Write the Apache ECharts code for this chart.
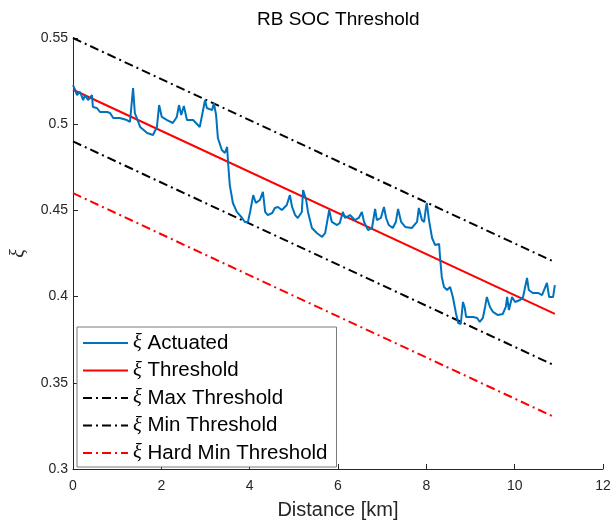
<!DOCTYPE html>
<html>
<head>
<meta charset="utf-8">
<script src="https://cdn.jsdelivr.net/npm/echarts@6/dist/echarts.min.js"></script>
<style>
  html, body { margin: 0; padding: 0; background: #fff; }
  #chart { width: 613px; height: 526px; }
</style>
</head>
<body>
<div id="chart"></div>
<script>
// Distance along the route [km] and measured state of charge
const distance = [
  0.00, 0.05, 0.09, 0.16, 0.23, 0.27, 0.34, 0.43, 0.45, 0.54, 0.61, 0.77, 0.84, 0.91, 1.06, 1.22, 1.29, 1.36, 1.40, 1.52,
  1.68, 1.81, 1.90, 1.95, 2.01, 2.13, 2.26, 2.35, 2.40, 2.45, 2.51, 2.58, 2.72, 2.87, 2.99, 3.03, 3.15, 3.19, 3.24, 3.28,
  3.37, 3.44, 3.49, 3.51, 3.55, 3.62, 3.71, 3.83, 3.89, 3.96, 4.01, 4.08, 4.14, 4.23, 4.30, 4.35, 4.41, 4.51, 4.57, 4.64,
  4.73, 4.84, 4.91, 4.96, 5.03, 5.09, 5.18, 5.21, 5.28, 5.32, 5.41, 5.52, 5.64, 5.71, 5.80, 5.86, 5.98, 6.04, 6.11, 6.16,
  6.27, 6.38, 6.47, 6.54, 6.59, 6.68, 6.77, 6.84, 6.88, 6.97, 7.04, 7.09, 7.15, 7.24, 7.31, 7.36, 7.43, 7.52, 7.67, 7.79,
  7.83, 7.90, 7.95, 7.99, 8.01, 8.06, 8.13, 8.20, 8.24, 8.29, 8.31, 8.35, 8.40, 8.47, 8.54, 8.58, 8.60, 8.67, 8.72, 8.78,
  8.83, 8.87, 8.90, 8.94, 9.06, 9.15, 9.21, 9.28, 9.33, 9.37, 9.44, 9.51, 9.62, 9.73, 9.80, 9.83, 9.87, 9.94, 10.01, 10.12,
  10.19, 10.28, 10.32, 10.41, 10.53, 10.62, 10.73, 10.78, 10.87, 10.91
];
const socActuated = [
  0.5227, 0.5198, 0.5169, 0.5187, 0.5140, 0.5169, 0.5140, 0.5169, 0.5100, 0.5094, 0.5071, 0.5071, 0.5065, 0.5036, 0.5036, 0.5024, 0.5013, 0.5210, 0.5065, 0.4984,
  0.4949, 0.4937, 0.4984, 0.5111, 0.5042, 0.5024, 0.5007, 0.5042, 0.5111, 0.5053, 0.5106, 0.5024, 0.5024, 0.4984, 0.5140, 0.5094, 0.5082, 0.5123, 0.5053, 0.4920,
  0.4850, 0.4833, 0.4868, 0.4781, 0.4647, 0.4543, 0.4491, 0.4456, 0.4433, 0.4433, 0.4491, 0.4589, 0.4543, 0.4560, 0.4607, 0.4491, 0.4473, 0.4485, 0.4514, 0.4520,
  0.4502, 0.4531, 0.4589, 0.4520, 0.4473, 0.4456, 0.4491, 0.4618, 0.4560, 0.4491, 0.4398, 0.4369, 0.4346, 0.4369, 0.4502, 0.4433, 0.4415, 0.4427, 0.4491, 0.4456,
  0.4473, 0.4444, 0.4456, 0.4491, 0.4433, 0.4386, 0.4398, 0.4508, 0.4444, 0.4456, 0.4520, 0.4456, 0.4415, 0.4398, 0.4433, 0.4508, 0.4433, 0.4404, 0.4398, 0.4433,
  0.4514, 0.4444, 0.4433, 0.4514, 0.4543, 0.4444, 0.4340, 0.4299, 0.4288, 0.4305, 0.4230, 0.4114, 0.4056, 0.4038, 0.4056, 0.4067, 0.3998, 0.3905, 0.3847, 0.3841,
  0.3969, 0.3934, 0.3882, 0.3893, 0.3882, 0.3876, 0.3853, 0.3876, 0.3940, 0.3998, 0.3940, 0.3911, 0.3893, 0.3899, 0.3940, 0.3998, 0.3922, 0.3998, 0.3969, 0.3980,
  0.3998, 0.4108, 0.4038, 0.4021, 0.4021, 0.4009, 0.4079, 0.3998, 0.3998, 0.4067
];

// Straight threshold bands: values at the start and end of the route
const bandDistance = [0, 10.91];
const threshold = [0.52, 0.39];
const maxThreshold = [0.55, 0.42];
const minThreshold = [0.49, 0.36];
const hardMinThreshold = [0.46, 0.33];

// Axis ticks
const xTicks = [0, 2, 4, 6, 8, 10, 12];
const yTicks = [0.3, 0.35, 0.4, 0.45, 0.5, 0.55];

const seriesNames = ['Actuated', 'Threshold', 'Max Threshold', 'Min Threshold', 'Hard Min Threshold'];

const pairs = (xs, ys) => xs.map((x, i) => [x, ys[i]]);
const dashDot = [9, 4, 2, 4];
const axisColor = '#262626';
const sans = 'Liberation Sans, Arial, sans-serif';

const chart = echarts.init(document.getElementById('chart'), null, { renderer: 'canvas' });

const axisCommon = {
  axisLine: { show: true, lineStyle: { color: axisColor, width: 1 } },
  axisTick: { show: true, inside: true, length: 5, lineStyle: { color: axisColor } },
  splitLine: { show: false },
  axisLabel: { color: axisColor, fontSize: 14, fontFamily: sans },
  nameTextStyle: { color: axisColor, fontSize: 20, fontFamily: sans }
};

chart.setOption({
  animation: false,
  backgroundColor: '#ffffff',
  title: {
    text: 'RB SOC Threshold',
    left: 252,
    top: 5,
    textStyle: { color: '#000', fontSize: 19, fontWeight: 'normal', fontFamily: sans }
  },
  grid: { left: 73, right: 10, top: 38, bottom: 57, containLabel: false, outerBoundsMode: 'none' },
  xAxis: Object.assign({}, axisCommon, {
    type: 'value',
    min: xTicks[0],
    max: xTicks[xTicks.length - 1],
    interval: xTicks[1] - xTicks[0],
    name: 'Distance [km]',
    nameLocation: 'middle',
    nameGap: 31,
    axisLabel: Object.assign({}, axisCommon.axisLabel, { margin: 10 })
  }),
  yAxis: Object.assign({}, axisCommon, {
    type: 'value',
    min: yTicks[0],
    max: yTicks[yTicks.length - 1],
    interval: 0.05,
    name: 'ξ',
    nameLocation: 'middle',
    nameRotate: 90,
    nameGap: 44,
    nameTextStyle: { color: axisColor, fontSize: 20, fontStyle: 'italic', fontFamily: 'Liberation Serif, serif' },
    axisLabel: Object.assign({}, axisCommon.axisLabel, {
      margin: 5,
      formatter: v => {
        const t = yTicks.find(k => Math.abs(k - v) < 1e-9);
        return t === undefined ? '' : String(t);
      }
    })
  }),
  legend: {
    orient: 'vertical',
    left: 77,
    top: 327,
    padding: [5, 9, 3, 5],
    itemWidth: 45,
    itemHeight: 14,
    itemGap: 5.5,
    backgroundColor: '#ffffff',
    borderColor: '#7a7a7a',
    borderWidth: 1,
    itemStyle: { opacity: 0 },
    data: seriesNames,
    formatter: name => '{xi|ξ} ' + name,
    textStyle: {
      color: '#000',
      fontSize: 20.5,
      lineHeight: 22,
      fontFamily: sans,
      rich: {
        xi: { fontSize: 20.5, fontStyle: 'italic', fontFamily: 'Liberation Serif, serif', color: '#000' }
      }
    }
  },
  series: [
    {
      name: seriesNames[0], type: 'line', data: pairs(distance, socActuated),
      symbol: 'none', showSymbol: false, z: 5,
      lineStyle: { color: '#0072BD', width: 2 }, itemStyle: { color: '#0072BD' }
    },
    {
      name: seriesNames[1], type: 'line', data: pairs(bandDistance, threshold),
      symbol: 'none', showSymbol: false, z: 4,
      lineStyle: { color: '#FF0000', width: 2 }, itemStyle: { color: '#FF0000' }
    },
    {
      name: seriesNames[2], type: 'line', data: pairs(bandDistance, maxThreshold),
      symbol: 'none', showSymbol: false, z: 3,
      lineStyle: { color: '#000000', width: 2, type: dashDot }, itemStyle: { color: '#000000' }
    },
    {
      name: seriesNames[3], type: 'line', data: pairs(bandDistance, minThreshold),
      symbol: 'none', showSymbol: false, z: 3,
      lineStyle: { color: '#000000', width: 2, type: dashDot }, itemStyle: { color: '#000000' }
    },
    {
      name: seriesNames[4], type: 'line', data: pairs(bandDistance, hardMinThreshold),
      symbol: 'none', showSymbol: false, z: 3,
      lineStyle: { color: '#FF0000', width: 2, type: dashDot }, itemStyle: { color: '#FF0000' }
    }
  ]
});
</script>
</body>
</html>
